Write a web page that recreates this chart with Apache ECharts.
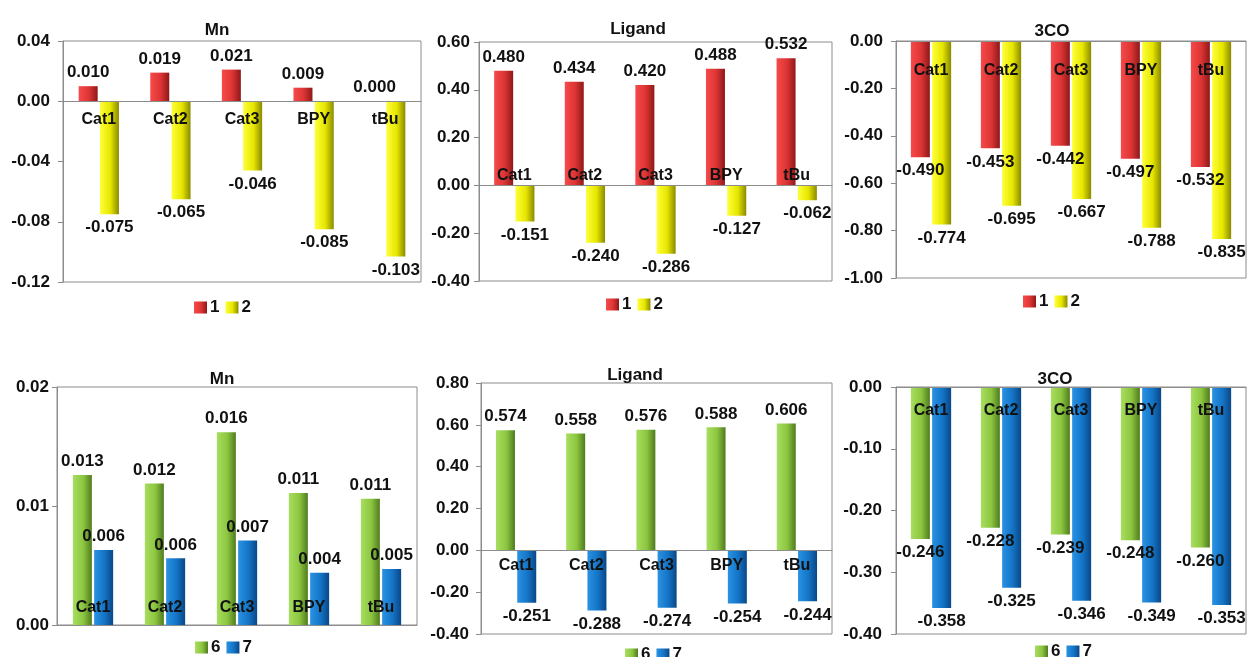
<!DOCTYPE html>
<html><head><meta charset="utf-8">
<script src="https://cdn.jsdelivr.net/npm/echarts@6/dist/echarts.min.js"></script>
<style>html,body{margin:0;padding:0;background:#fff}#c{width:1248px;height:657px}</style>
</head><body><div id="c"></div>
<script>
const categories = ['Cat1', 'Cat2', 'Cat3', 'BPY', 'tBu'];
const panelTitles = ['Mn', 'Ligand', '3CO', 'Mn', 'Ligand', '3CO'];
const mnA1 = [0.010, 0.019, 0.021, 0.009, 0.000];
const mnA2 = [-0.075, -0.065, -0.046, -0.085, -0.103];
const ligA1 = [0.480, 0.434, 0.420, 0.488, 0.532];
const ligA2 = [-0.151, -0.240, -0.286, -0.127, -0.062];
const coA1 = [-0.490, -0.453, -0.442, -0.497, -0.532];
const coA2 = [-0.774, -0.695, -0.667, -0.788, -0.835];
const mnB6 = [0.0126, 0.0119, 0.0162, 0.0111, 0.0106];
const mnB7 = [0.0063, 0.0056, 0.0071, 0.0044, 0.0047];
const ligB6 = [0.574, 0.558, 0.576, 0.588, 0.606];
const ligB7 = [-0.251, -0.288, -0.274, -0.254, -0.244];
const coB6 = [-0.246, -0.228, -0.239, -0.248, -0.260];
const coB7 = [-0.358, -0.325, -0.346, -0.349, -0.353];
const yRanges = [[-0.12, 0.04, 0.04], [-0.4, 0.6, 0.2], [-1.0, 0.0, 0.2], [0, 0.02, 0.01], [-0.4, 0.8, 0.2], [-0.4, 0.0, 0.1]];
const seriesNamesTop = ['1', '2'];
const seriesNamesBottom = ['6', '7'];

const FONT = '"Liberation Sans", Arial, sans-serif';
function grad(c0, c1, c2) {
  return new echarts.graphic.LinearGradient(0, 0, 1, 0, [
    {offset: 0, color: c0}, {offset: 0.55, color: c1}, {offset: 1, color: c2}]);
}
const RED = grad('#f74a4a', '#dc3434', '#8e1818');
const YEL = grad('#ffff3a', '#e6e600', '#8a8a00');
const GRN = grad('#a8de60', '#8cc63f', '#4f7b1f');
const BLU = grad('#2a92e4', '#1474c6', '#0a4786');

const panels = [
  {data: [mnA1, mnA2], names: seriesNamesTop, colors: [RED, YEL]},
  {data: [ligA1, ligA2], names: seriesNamesTop, colors: [RED, YEL]},
  {data: [coA1, coA2], names: seriesNamesTop, colors: [RED, YEL]},
  {data: [mnB6, mnB7], names: seriesNamesBottom, colors: [GRN, BLU]},
  {data: [ligB6, ligB7], names: seriesNamesBottom, colors: [GRN, BLU]},
  {data: [coB6, coB7], names: seriesNamesBottom, colors: [GRN, BLU]}
];
// layout: grid [left, top, width, height], title center x/top, legend left/top, category label side & distance, y label margin
const layout = [
  {g: [63, 41, 358, 241], tx: 212, ty: 17, lx: 189, ly: 294, cp: 'bottom', cd: 10, ym: 13},
  {g: [479, 42, 353, 239], tx: 633, ty: 16, lx: 601, ly: 291, cp: 'top', cd: 2, ym: 9},
  {g: [896, 41, 350, 237], tx: 1047, ty: 18, lx: 1018, ly: 288, cp: 'bottom', cd: 22, ym: 13},
  {g: [57, 387, 360, 238], tx: 217, ty: 366, lx: 190, ly: 634, cp: 'top', cd: 9, ym: 8},
  {g: [481, 383, 351, 251], tx: 630, ty: 362, lx: 620, ly: 641, cp: 'bottom', cd: 7, ym: 12},
  {g: [896, 387, 350, 247], tx: 1050, ty: 366, lx: 1030, ly: 638, cp: 'bottom', cd: 16, ym: 14}
];

const option = {
  animation: false,
  backgroundColor: '#ffffff',
  title: [], legend: [], grid: [], xAxis: [], yAxis: [], series: []
};
panels.forEach((p, i) => {
  const L = layout[i];
  const [mn, mx, iv] = yRanges[i];
  option.title.push({text: panelTitles[i], left: L.tx, top: L.ty, textAlign: 'center',
    textStyle: {fontFamily: FONT, fontWeight: 'bold', fontSize: 17, color: '#111'}});
  option.legend.push({data: p.names, left: L.lx, top: L.ly, itemWidth: 13, itemHeight: 12,
    itemGap: 6, itemStyle: {borderWidth: 0}, icon: 'rect', selectedMode: false,
    textStyle: {fontFamily: FONT, fontWeight: 'bold', fontSize: 17, color: '#111', padding: [0, 0, 0, -2]}});
  option.grid.push({left: L.g[0], top: L.g[1], width: L.g[2], height: L.g[3], show: true,
    borderColor: '#8c8c8c', borderWidth: 1, backgroundColor: 'transparent', containLabel: false});
  option.xAxis.push({type: 'category', gridIndex: i, data: categories,
    axisLine: {show: true, onZero: true, lineStyle: {color: '#8c8c8c', width: 1}},
    axisTick: {show: false},
    axisLabel: {show: false},
    z: 5});
  option.yAxis.push({type: 'value', gridIndex: i, min: mn, max: mx, interval: iv,
    splitLine: {show: false},
    axisLine: {show: true, lineStyle: {color: '#8c8c8c'}},
    axisTick: {show: true, length: 5, lineStyle: {color: '#8c8c8c'}},
    axisLabel: {margin: L.ym, fontFamily: FONT, fontWeight: 'bold', fontSize: 17, color: '#111',
      formatter: v => v.toFixed(2)}});
  p.data.forEach((arr, k) => {
    option.series.push({
      type: 'bar', name: p.names[k], xAxisIndex: i, yAxisIndex: i,
      barWidth: 19, barGap: '12%',
      itemStyle: {color: p.colors[k]},
      label: {show: true, distance: 5, fontFamily: FONT, fontWeight: 'bold', fontSize: 17, color: '#111',
        formatter: q => Number(q.value).toFixed(3)},
      data: arr.map(v => ({value: v, label: {position: v >= 0 ? 'top' : 'bottom'}}))
    });
  });
  // category labels sitting on the zero line
  option.series.push({
    type: 'scatter', name: 'cat' + i, xAxisIndex: i, yAxisIndex: i,
    symbolSize: 0, silent: true, z: 10,
    itemStyle: {color: '#111', opacity: 1},
    label: {show: true, position: L.cp, distance: L.cd, fontFamily: FONT, fontWeight: 'bold',
      fontSize: 16, color: '#111', opacity: 1, formatter: q => q.value[0]},
    data: categories.map(c => [c, 0])
  });
});
const chart = echarts.init(document.getElementById('c'), null, {renderer: 'canvas'});
chart.setOption(option);
</script>
</body></html>
